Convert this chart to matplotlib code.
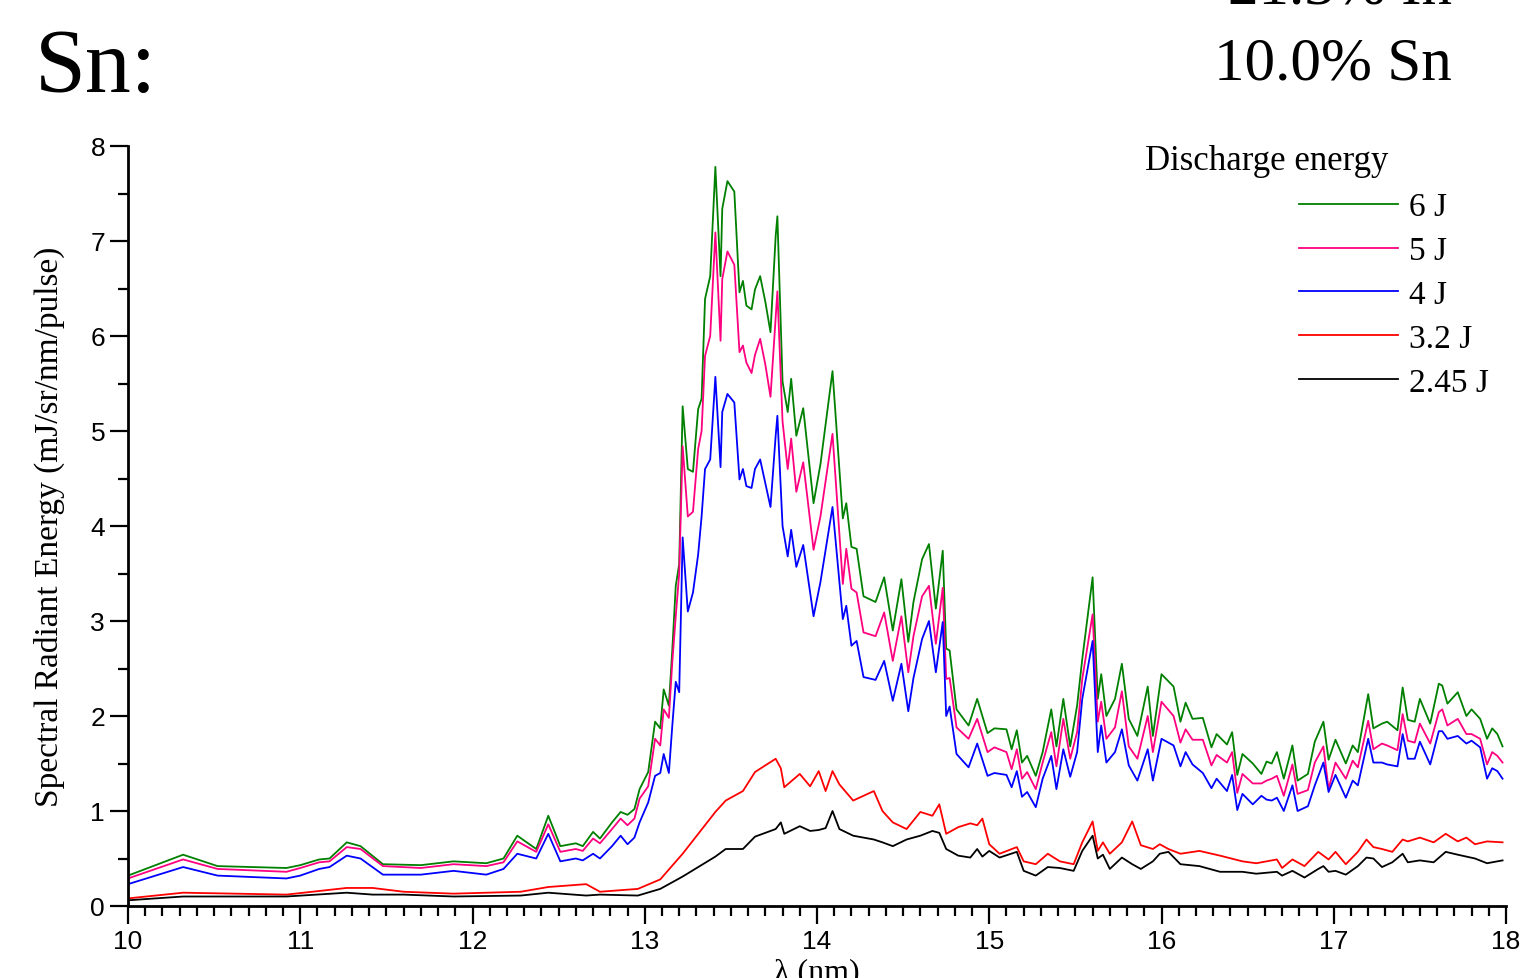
import matplotlib
matplotlib.use("Agg")
import matplotlib.pyplot as plt
from matplotlib.ticker import MultipleLocator

# wavelength grid (nm) shared by the 6 J / 5 J / 4 J spectra
wl_hi = [10.00, 10.32, 10.52, 10.92, 11.00, 11.11, 11.17, 11.27, 11.35, 11.48,
         11.70, 11.89, 12.08, 12.18, 12.26, 12.37, 12.44, 12.51, 12.60, 12.64,
         12.70, 12.74, 12.81, 12.86, 12.90, 12.94, 12.97, 13.02, 13.06, 13.09,
         13.11, 13.14, 13.16, 13.18, 13.20, 13.22, 13.25, 13.28, 13.31, 13.33,
         13.35, 13.38, 13.41, 13.44, 13.45, 13.48, 13.52, 13.55, 13.57, 13.59,
         13.62, 13.64, 13.67, 13.70, 13.73, 13.76, 13.77, 13.80, 13.83, 13.85,
         13.88, 13.92, 13.98, 14.02, 14.09, 14.15, 14.17, 14.20, 14.23, 14.27,
         14.34, 14.39, 14.44, 14.49, 14.53, 14.56, 14.61, 14.65, 14.69, 14.73,
         14.75, 14.77, 14.81, 14.88, 14.93, 14.99, 15.03, 15.10, 15.13, 15.16,
         15.19, 15.22, 15.27, 15.31, 15.36, 15.39, 15.43, 15.47, 15.51, 15.54,
         15.60, 15.63, 15.65, 15.68, 15.73, 15.77, 15.81, 15.86, 15.92, 15.95,
         16.00, 16.07, 16.11, 16.14, 16.18, 16.24, 16.29, 16.32, 16.38, 16.41,
         16.44, 16.47, 16.53, 16.58, 16.61, 16.64, 16.67, 16.71, 16.76, 16.79,
         16.85, 16.89, 16.94, 16.97, 17.01, 17.07, 17.11, 17.14, 17.20, 17.23,
         17.28, 17.31, 17.37, 17.40, 17.43, 17.47, 17.50, 17.56, 17.61, 17.63,
         17.66, 17.72, 17.77, 17.80, 17.85, 17.89, 17.92, 17.95, 17.98]

e6J = [0.32, 0.54, 0.42, 0.40, 0.43, 0.49, 0.50, 0.67, 0.63, 0.44,
       0.43, 0.47, 0.45, 0.50, 0.74, 0.60, 0.95, 0.63, 0.66, 0.63,
       0.78, 0.71, 0.88, 0.99, 0.96, 1.02, 1.23, 1.41, 1.94, 1.87,
       2.28, 2.11, 2.70, 3.37, 3.60, 5.26, 4.60, 4.57, 5.23, 5.34,
       6.39, 6.63, 7.78, 6.63, 7.34, 7.63, 7.52, 6.46, 6.58, 6.32,
       6.28, 6.49, 6.63, 6.36, 6.04, 7.05, 7.26, 5.52, 5.20, 5.55,
       4.95, 5.24, 4.24, 4.65, 5.63, 4.08, 4.24, 3.78, 3.76, 3.26,
       3.20, 3.46, 2.90, 3.44, 2.78, 3.20, 3.65, 3.81, 3.13, 3.74,
       2.71, 2.69, 2.07, 1.90, 2.18, 1.82, 1.87, 1.86, 1.65, 1.85,
       1.51, 1.58, 1.37, 1.62, 2.07, 1.68, 2.18, 1.68, 2.11, 2.60,
       3.46, 2.18, 2.44, 2.00, 2.18, 2.55, 1.97, 1.79, 2.31, 1.79,
       2.44, 2.31, 1.94, 2.14, 1.97, 1.98, 1.67, 1.81, 1.70, 1.83,
       1.38, 1.60, 1.50, 1.39, 1.52, 1.50, 1.62, 1.34, 1.69, 1.32,
       1.39, 1.73, 1.94, 1.54, 1.75, 1.50, 1.69, 1.62, 2.23, 1.87,
       1.92, 1.94, 1.85, 2.30, 1.96, 1.94, 2.18, 1.92, 2.34, 2.32,
       2.13, 2.25, 2.00, 2.07, 1.97, 1.76, 1.87, 1.81, 1.68]

e5J = [0.29, 0.49, 0.39, 0.36, 0.40, 0.46, 0.47, 0.62, 0.60, 0.42,
       0.40, 0.44, 0.42, 0.46, 0.68, 0.57, 0.86, 0.57, 0.60, 0.58,
       0.71, 0.66, 0.81, 0.92, 0.85, 0.92, 1.13, 1.26, 1.76, 1.69,
       2.07, 1.98, 2.57, 3.05, 3.50, 4.84, 4.10, 4.15, 4.81, 5.00,
       5.79, 6.00, 7.09, 5.95, 6.60, 6.89, 6.75, 5.83, 5.90, 5.72,
       5.61, 5.80, 5.97, 5.70, 5.36, 6.20, 6.47, 5.10, 4.60, 4.92,
       4.36, 4.67, 3.75, 4.10, 4.97, 3.39, 3.76, 3.34, 3.30, 2.88,
       2.84, 3.09, 2.58, 3.05, 2.46, 2.84, 3.26, 3.37, 2.76, 3.35,
       2.39, 2.40, 1.88, 1.76, 1.97, 1.62, 1.67, 1.62, 1.44, 1.65,
       1.34, 1.41, 1.23, 1.51, 1.83, 1.47, 1.97, 1.55, 1.83, 2.39,
       3.07, 1.94, 2.15, 1.76, 1.88, 2.26, 1.68, 1.55, 2.00, 1.62,
       2.15, 2.00, 1.72, 1.86, 1.75, 1.75, 1.48, 1.59, 1.51, 1.62,
       1.19, 1.39, 1.29, 1.29, 1.32, 1.34, 1.37, 1.16, 1.49, 1.18,
       1.22, 1.51, 1.68, 1.23, 1.51, 1.34, 1.53, 1.46, 1.95, 1.65,
       1.71, 1.69, 1.64, 2.02, 1.74, 1.72, 1.92, 1.71, 2.04, 2.07,
       1.90, 1.97, 1.81, 1.81, 1.76, 1.49, 1.62, 1.58, 1.51]

e4J = [0.23, 0.41, 0.32, 0.29, 0.32, 0.39, 0.41, 0.53, 0.50, 0.33,
       0.33, 0.37, 0.33, 0.39, 0.55, 0.50, 0.76, 0.47, 0.50, 0.48,
       0.55, 0.50, 0.63, 0.74, 0.65, 0.72, 0.88, 1.09, 1.37, 1.40,
       1.60, 1.40, 1.90, 2.36, 2.25, 3.88, 3.10, 3.30, 3.70, 4.10,
       4.60, 4.70, 5.57, 4.62, 5.20, 5.39, 5.30, 4.49, 4.60, 4.42,
       4.40, 4.60, 4.70, 4.45, 4.20, 4.95, 5.16, 4.00, 3.68, 3.96,
       3.57, 3.80, 3.05, 3.41, 4.20, 3.02, 3.16, 2.74, 2.79, 2.41,
       2.38, 2.58, 2.16, 2.55, 2.05, 2.40, 2.81, 3.00, 2.46, 2.99,
       2.00, 2.10, 1.60, 1.46, 1.71, 1.37, 1.40, 1.38, 1.25, 1.42,
       1.15, 1.20, 1.04, 1.34, 1.58, 1.23, 1.65, 1.36, 1.62, 2.18,
       2.79, 1.62, 1.90, 1.51, 1.62, 1.86, 1.48, 1.32, 1.65, 1.32,
       1.76, 1.69, 1.47, 1.62, 1.49, 1.40, 1.24, 1.34, 1.21, 1.38,
       1.01, 1.18, 1.07, 1.16, 1.12, 1.11, 1.14, 1.00, 1.27, 1.00,
       1.05, 1.27, 1.51, 1.20, 1.38, 1.14, 1.32, 1.27, 1.76, 1.51,
       1.51, 1.49, 1.47, 1.81, 1.55, 1.55, 1.73, 1.49, 1.84, 1.84,
       1.76, 1.79, 1.71, 1.74, 1.67, 1.34, 1.45, 1.42, 1.34]

# wavelength grid (nm) for the two low-energy spectra
wl_lo = [10.00, 10.32, 10.92, 11.27, 11.42, 11.60, 11.89, 12.28, 12.44, 12.66,
         12.74, 12.96, 13.09, 13.22, 13.41, 13.47, 13.57, 13.64, 13.76, 13.79,
         13.81, 13.90, 13.96, 14.01, 14.05, 14.09, 14.13, 14.21, 14.33, 14.38,
         14.44, 14.52, 14.60, 14.67, 14.71, 14.75, 14.82, 14.89, 14.93, 14.96,
         15.00, 15.06, 15.16, 15.20, 15.27, 15.34, 15.41, 15.49, 15.54, 15.60,
         15.63, 15.66, 15.70, 15.77, 15.83, 15.88, 15.95, 15.99, 16.04, 16.11,
         16.22, 16.34, 16.47, 16.55, 16.67, 16.70, 16.76, 16.83, 16.91, 16.94,
         16.97, 17.01, 17.07, 17.14, 17.19, 17.23, 17.28, 17.34, 17.40, 17.43,
         17.50, 17.58, 17.65, 17.72, 17.77, 17.82, 17.89, 17.98]

e32J = [0.08, 0.14, 0.12, 0.19, 0.19, 0.15, 0.13, 0.15, 0.20, 0.23,
        0.15, 0.18, 0.28, 0.55, 0.99, 1.11, 1.21, 1.41, 1.55, 1.45,
        1.25, 1.39, 1.26, 1.42, 1.21, 1.42, 1.28, 1.11, 1.21, 1.00,
        0.88, 0.81, 0.99, 0.95, 1.07, 0.76, 0.83, 0.87, 0.85, 0.92,
        0.65, 0.55, 0.62, 0.47, 0.44, 0.55, 0.47, 0.44, 0.67, 0.89,
        0.58, 0.67, 0.55, 0.67, 0.89, 0.64, 0.60, 0.65, 0.60, 0.55,
        0.58, 0.53, 0.47, 0.45, 0.49, 0.40, 0.49, 0.42, 0.57, 0.53,
        0.49, 0.57, 0.44, 0.57, 0.70, 0.62, 0.60, 0.57, 0.70, 0.68,
        0.72, 0.67, 0.76, 0.68, 0.72, 0.65, 0.68, 0.67]

e245J = [0.06, 0.10, 0.10, 0.14, 0.12, 0.12, 0.10, 0.11, 0.14, 0.11,
         0.12, 0.11, 0.18, 0.31, 0.52, 0.60, 0.60, 0.73, 0.81, 0.88,
         0.76, 0.84, 0.79, 0.80, 0.82, 1.00, 0.81, 0.74, 0.70, 0.67,
         0.63, 0.70, 0.74, 0.79, 0.77, 0.60, 0.53, 0.51, 0.60, 0.52,
         0.58, 0.51, 0.57, 0.37, 0.32, 0.41, 0.40, 0.37, 0.58, 0.74,
         0.50, 0.54, 0.39, 0.51, 0.44, 0.39, 0.47, 0.55, 0.57, 0.44,
         0.42, 0.36, 0.36, 0.34, 0.36, 0.32, 0.37, 0.30, 0.39, 0.42,
         0.36, 0.37, 0.33, 0.42, 0.51, 0.50, 0.41, 0.46, 0.55, 0.46,
         0.48, 0.46, 0.57, 0.54, 0.52, 0.50, 0.45, 0.48]

labels = ["6 J", "5 J", "4 J", "3.2 J", "2.45 J"]
colors = ["#008000", "#FF0080", "#0000FF", "#FF0000", "#000000"]

serif = "Liberation Serif"
sans = "Liberation Sans"

fig = plt.figure(figsize=(15.27, 9.79), dpi=100)
ax = fig.add_axes([128 / 1527, 72 / 979, 1378 / 1527, 760 / 979])

series = [(wl_hi, e6J), (wl_hi, e5J), (wl_hi, e4J), (wl_lo, e32J), (wl_lo, e245J)]
for (x, y), c, lab in zip(series, colors, labels):
    ax.plot(x, y, color=c, lw=1.3, label=lab)

ax.set_xlim(10, 18)
ax.set_ylim(0, 8)
ax.spines["top"].set_visible(False)
ax.spines["right"].set_visible(False)
ax.spines["left"].set_linewidth(2)
ax.spines["bottom"].set_linewidth(2)
ax.xaxis.set_major_locator(MultipleLocator(1))
ax.xaxis.set_minor_locator(MultipleLocator(0.1))
ax.yaxis.set_major_locator(MultipleLocator(1))
ax.yaxis.set_minor_locator(MultipleLocator(0.5))
ax.tick_params(which="major", length=13, width=1.6, direction="out", labelsize=19)
ax.tick_params(which="minor", length=7, width=1.6, direction="out")
for t in ax.get_xticklabels() + ax.get_yticklabels():
    t.set_fontfamily(sans)

ax.set_xlabel("λ (nm)", fontfamily=serif, fontsize=23, labelpad=3)
ax.set_ylabel("Spectral Radiant Energy (mJ/sr/nm/pulse)", fontfamily=serif,
              fontsize=24, labelpad=18)

leg = ax.legend(loc="upper right", bbox_to_anchor=(1.009, 0.979), frameon=False,
                handlelength=2.95, handletextpad=0.33, labelspacing=0.40,
                prop={"family": serif, "size": 24})
ax.text(0.738, 0.981, "Discharge energy", transform=ax.transAxes,
        fontfamily=serif, fontsize=25, va="center", ha="left")

fig.text(35 / 1527, 1 - 92 / 979, "Sn:", fontfamily=serif, fontsize=66,
         va="baseline", ha="left")
fig.text(1452 / 1527, 1 - 80 / 979, "10.0% Sn", fontfamily=serif, fontsize=44,
         va="baseline", ha="right")
fig.text(1452 / 1527, 1 - 4 / 979, "21.3% In", fontfamily=serif, fontsize=44,
         va="baseline", ha="right")

fig.savefig("out.png", dpi=100)
